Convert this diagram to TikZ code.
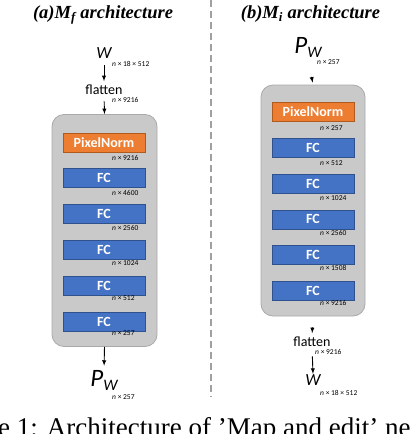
\documentclass[tikz,border=0pt]{standalone}
\usepackage{fontspec}
\setmainfont{Liberation Serif}
\newfontfamily\diagfont{Carlito}
\usepackage{tikz}
\usetikzlibrary{arrows}
\usetikzlibrary{positioning}
\definecolor{mapBlue}{HTML}{4472C4}
\definecolor{mapBlueEdge}{HTML}{2F528F}
\definecolor{mapOrange}{HTML}{ED7D31}
\definecolor{mapOrangeEdge}{HTML}{B05A1E}
\definecolor{mapGray}{HTML}{C9C9C9}
\definecolor{mapGrayEdge}{HTML}{A9A9A9}
\definecolor{mapDash}{HTML}{A0A0A0}

\begin{document}
\begin{tikzpicture}[x=1pt,y=-1pt]
\tikzset{TitleText/.style={
  inner sep=0,
  anchor=base,
  font=\fontsize{18.5}{18.5}\selectfont\bfseries\itshape
}}
\tikzset{OuterBox/.style={
  draw=mapGrayEdge,
  fill=mapGray,
  line width=0.8pt,
  rounded corners=12pt,
  minimum width=105pt,
  minimum height=232pt,
}}
\tikzset{NormBlock/.style={
  draw=mapOrangeEdge,
  fill=mapOrange,
  line width=0.8pt,
  minimum width=82pt,
  minimum height=19pt,
  inner sep=0,
  text=white,
  font=\diagfont\fontsize{14}{14}\selectfont\bfseries
}}
\tikzset{FcBlock/.style={
  NormBlock,
  draw=mapBlueEdge,
  fill=mapBlue,
}}
\tikzset{DimLabel/.style={
  inner sep=0,
  anchor=west,
  font=\diagfont\fontsize{7.5}{7.5}\selectfont
}}
\tikzset{PlainText/.style={
  inner sep=0,
  anchor=base,
  font=\diagfont\fontsize{14}{14}\selectfont
}}
\tikzset{FlowArrow/.style={-latex, line width=0.9pt}}

\useasboundingbox (0,0) rectangle (414,434);
\clip (0,0) rectangle (414,434);

% separator
\draw[mapDash, line width=1.4pt, dash pattern=on 7pt off 4pt] (211,0) -- (211,397);

% (a) M_f
\node[TitleText] (lTitle) at (103,18) {(a)M\textsubscript{f} architecture};
\node[PlainText, font=\diagfont\fontsize{17}{17}\selectfont\itshape] (lW) at (104,58) {W};
\node[DimLabel] (lWdim) at (112,64) {\textit{n} × 18 × 512};
\node[PlainText] (lFlat) at (104,94) {flatten};
\node[DimLabel] (lFlatdim) at (112,99.5) {\textit{n} × 9216};
\node[OuterBox] (lBox) at (104.5,230.5) {};
\node[NormBlock] (lNorm) at (104,142.5) {PixelNorm};
\node[FcBlock, below=16pt of lNorm] (lFc1) {FC};
\node[FcBlock, below=16pt of lFc1] (lFc2) {FC};
\node[FcBlock, below=16pt of lFc2] (lFc3) {FC};
\node[FcBlock, below=16pt of lFc3] (lFc4) {FC};
\node[FcBlock, below=16pt of lFc4] (lFc5) {FC};
\node[DimLabel] (lNormdim) at (112,158) {\textit{n} × 9216};
\node[DimLabel] (lFc1dim) at (112,193) {\textit{n} × 4600};
\node[DimLabel] (lFc2dim) at (112,228) {\textit{n} × 2560};
\node[DimLabel] (lFc3dim) at (112,263) {\textit{n} × 1024};
\node[DimLabel] (lFc4dim) at (112,298) {\textit{n} × 512};
\node[DimLabel] (lFc5dim) at (112,333) {\textit{n} × 257};
\node[PlainText] (lPw) at (104,386) {{\fontsize{25}{25}\selectfont\itshape P}\raisebox{-4pt}{\fontsize{16}{16}\selectfont\itshape W}};
\node[DimLabel] (lPwdim) at (112,397) {\textit{n} × 257};

\draw[FlowArrow, shorten <=7pt, shorten >=3pt] (lW.south) -- (lFlat.north);
\draw[FlowArrow, shorten <=7pt] (lFlat.south) -- (lBox.north);
\draw[FlowArrow, shorten >=4pt] (lBox.south) -- (lPw.north);

% (b) M_i
\node[TitleText] (rTitle) at (310.5,18) {(b)M\textsubscript{i} architecture};
\node[PlainText] (rPw) at (308,53) {{\fontsize{25}{25}\selectfont\itshape P}\raisebox{-4pt}{\fontsize{16}{16}\selectfont\itshape W}};
\node[DimLabel] (rPwdim) at (317,62) {\textit{n} × 257};
\node[OuterBox, minimum width=104pt, minimum height=231pt] (rBox) at (313,200.5) {};
\node[NormBlock] (rNorm) at (313,112) {PixelNorm};
\node[FcBlock, below=16pt of rNorm] (rFc1) {FC};
\node[FcBlock, below=16pt of rFc1] (rFc2) {FC};
\node[FcBlock, below=16pt of rFc2] (rFc3) {FC};
\node[FcBlock, below=16pt of rFc3] (rFc4) {FC};
\node[FcBlock, below=16pt of rFc4] (rFc5) {FC};
\node[DimLabel] (rNormdim) at (320,128) {\textit{n} × 257};
\node[DimLabel] (rFc1dim) at (320,163) {\textit{n} × 512};
\node[DimLabel] (rFc2dim) at (320,198) {\textit{n} × 1024};
\node[DimLabel] (rFc3dim) at (320,233) {\textit{n} × 2560};
\node[DimLabel] (rFc4dim) at (320,268) {\textit{n} × 1508};
\node[DimLabel] (rFc5dim) at (320,303) {\textit{n} × 9216};
\node[PlainText] (rFlat) at (312,346) {flatten};
\node[DimLabel] (rFlatdim) at (315,352) {\textit{n} × 9216};
\node[PlainText, font=\diagfont\fontsize{17}{17}\selectfont\itshape] (rW) at (313,385) {W};
\node[DimLabel] (rWdim) at (320,393) {\textit{n} × 18 × 512};

\draw[FlowArrow, shorten <=20pt, shorten >=2pt] (rPw.south) -- (rBox.north);
\draw[FlowArrow, shorten <=11pt, shorten >=3pt] (rBox.south) -- (rFlat.north);
\draw[FlowArrow, shorten <=10pt] (rFlat.south) -- (rW.north);

% caption (cut by the frame)
\node[inner sep=0, anchor=base west, font=\fontsize{27}{27}\selectfont] (caption) at (-2,436) {e 1: Architecture of ’Map and edit’ ne};
\end{tikzpicture}
\end{document}
